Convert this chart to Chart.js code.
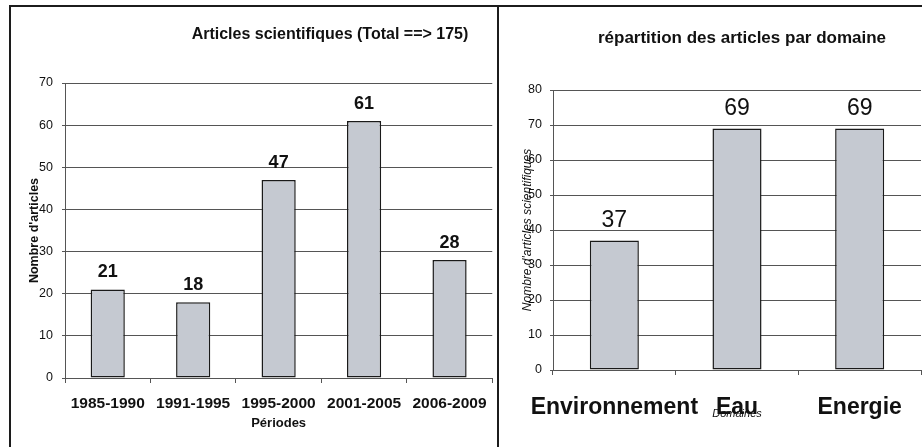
<!DOCTYPE html>
<html>
<head>
<meta charset="utf-8">
<script src="https://cdn.jsdelivr.net/npm/chart.js@4.4.0/dist/chart.umd.min.js"></script>
<style>
  html, body { margin: 0; padding: 0; background: #fff; }
  body { width: 922px; height: 447px; position: relative; overflow: hidden; }
  canvas { position: absolute; }
  #c1 { left: 10px; top: 6px; }
  #c2 { left: 498px; top: 6px; }
  .ln { position: absolute; background: #1c1c1c; }
</style>
</head>
<body>
<canvas id="c1" width="488" height="441"></canvas>
<canvas id="c2" width="424" height="441"></canvas>
<div class="ln" style="left:10px;top:5px;width:912px;height:2px;"></div>
<div class="ln" style="left:9px;top:5px;width:2px;height:442px;"></div>
<div class="ln" style="left:497px;top:5px;width:2px;height:442px;"></div>
<script>
// ---- data ----
const periodLabels = ['1985-1990', '1991-1995', '1995-2000', '2001-2005', '2006-2009'];
const periodCounts = [21, 18, 47, 61, 28];
const domainLabels = ['Environnement', 'Eau', 'Energie'];
const domainCounts = [37, 69, 69];
const leftTitle = 'Articles scientifiques (Total ==> 175)';
const rightTitle = 'répartition des articles par domaine';

const FONT = '"Liberation Sans", Arial, Helvetica, sans-serif';
const TXT = '#111';
const GRID = '#555';
const BAR = '#c5c9d1';

Chart.defaults.font.family = FONT;
Chart.defaults.color = TXT;

const headingPlugin = {
  id: 'heading',
  afterDraw(chart, args, opts) {
    const ctx = chart.ctx;
    ctx.save();
    ctx.font = 'bold ' + opts.size + 'px ' + FONT;
    ctx.fillStyle = TXT;
    ctx.textAlign = 'center';
    ctx.textBaseline = 'middle';
    ctx.fillText(opts.text, opts.x, opts.y);
    ctx.restore();
  }
};

const valueLabelPlugin = {
  id: 'valueLabels',
  afterDatasetsDraw(chart, args, opts) {
    const ctx = chart.ctx;
    ctx.save();
    ctx.font = opts.weight + ' ' + opts.size + 'px ' + FONT;
    ctx.fillStyle = TXT;
    ctx.textAlign = 'center';
    ctx.textBaseline = 'middle';
    chart.data.datasets.forEach((ds, i) => {
      chart.getDatasetMeta(i).data.forEach((el, j) => {
        ctx.fillText(String(ds.data[j]), el.x, el.y - opts.offset);
      });
    });
    ctx.restore();
  }
};

function makeChart(id, labels, values, cfg) {
  return new Chart(document.getElementById(id), {
    type: 'bar',
    data: {
      labels: labels,
      datasets: [{
        data: values,
        backgroundColor: BAR,
        borderColor: '#1a1a1a',
        borderWidth: 1.5,
        borderSkipped: false,
        barPercentage: 0.4,
        categoryPercentage: 1.0
      }]
    },
    options: {
      responsive: false,
      animation: false,
      events: [],
      layout: { padding: cfg.padding },
      plugins: {
        legend: { display: false },
        tooltip: { enabled: false },
        title: { display: false },
        heading: cfg.heading,
        valueLabels: cfg.valueLabels
      },
      scales: {
        x: {
          afterFit: s => { s.height = cfg.xHeight; },
          grid: { display: true, offset: true, drawOnChartArea: false, color: GRID, tickLength: 5, tickColor: GRID },
          border: { display: true, color: GRID, width: 1 },
          ticks: { font: cfg.xTickFont, color: TXT, padding: cfg.xTickPad, maxRotation: 0, autoSkip: false },
          title: { display: true, text: cfg.xTitle, font: cfg.xTitleFont, color: TXT, padding: { top: 0, bottom: cfg.xTitlePad } }
        },
        y: {
          min: 0, max: cfg.yMax,
          afterFit: s => { s.width = cfg.yWidth; },
          grid: { color: GRID, lineWidth: 1, tickLength: 3, tickColor: GRID },
          border: { display: true, color: GRID, width: 1 },
          ticks: { stepSize: 10, font: { size: 12.5 }, color: TXT, padding: cfg.yTickPad },
          title: { display: true, text: cfg.yTitle, font: cfg.yTitleFont, color: TXT, padding: { top: cfg.yTitlePad, bottom: 0 } }
        }
      }
    },
    plugins: [headingPlugin, valueLabelPlugin]
  });
}

makeChart('c1', periodLabels, periodCounts, {
  padding: { top: 77, right: 4, left: 0, bottom: 0 },
  yMax: 70, yWidth: 55, yTickPad: 9,
  xHeight: 69, xTickPad: 11,
  xTickFont: { size: 15.5, weight: 'bold' },
  xTitle: 'Périodes', xTitleFont: { size: 13, weight: 'bold' }, xTitlePad: 16,
  yTitle: "Nombre d'articles", yTitleFont: { size: 12.5, weight: 'bold' }, yTitlePad: 17,
  heading: { text: leftTitle, x: 320, y: 29, size: 16 },
  valueLabels: { size: 18, weight: 'bold', offset: 17 }
});

makeChart('c2', domainLabels, domainCounts, {
  padding: { top: 84, right: 1, left: 0, bottom: 0 },
  yMax: 80, yWidth: 55, yTickPad: 8,
  xHeight: 77, xTickPad: 19,
  xTickFont: { size: 23, weight: 'bold' },
  xTitle: 'Domaines', xTitleFont: { size: 11, style: 'italic' }, xTitlePad: 26,
  yTitle: "Nombre d'articles scientifiques", yTitleFont: { size: 12, style: 'italic' }, yTitlePad: 22,
  heading: { text: rightTitle, x: 244, y: 32, size: 17 },
  valueLabels: { size: 23, weight: 'normal', offset: 20 }
});
</script>
</body>
</html>
